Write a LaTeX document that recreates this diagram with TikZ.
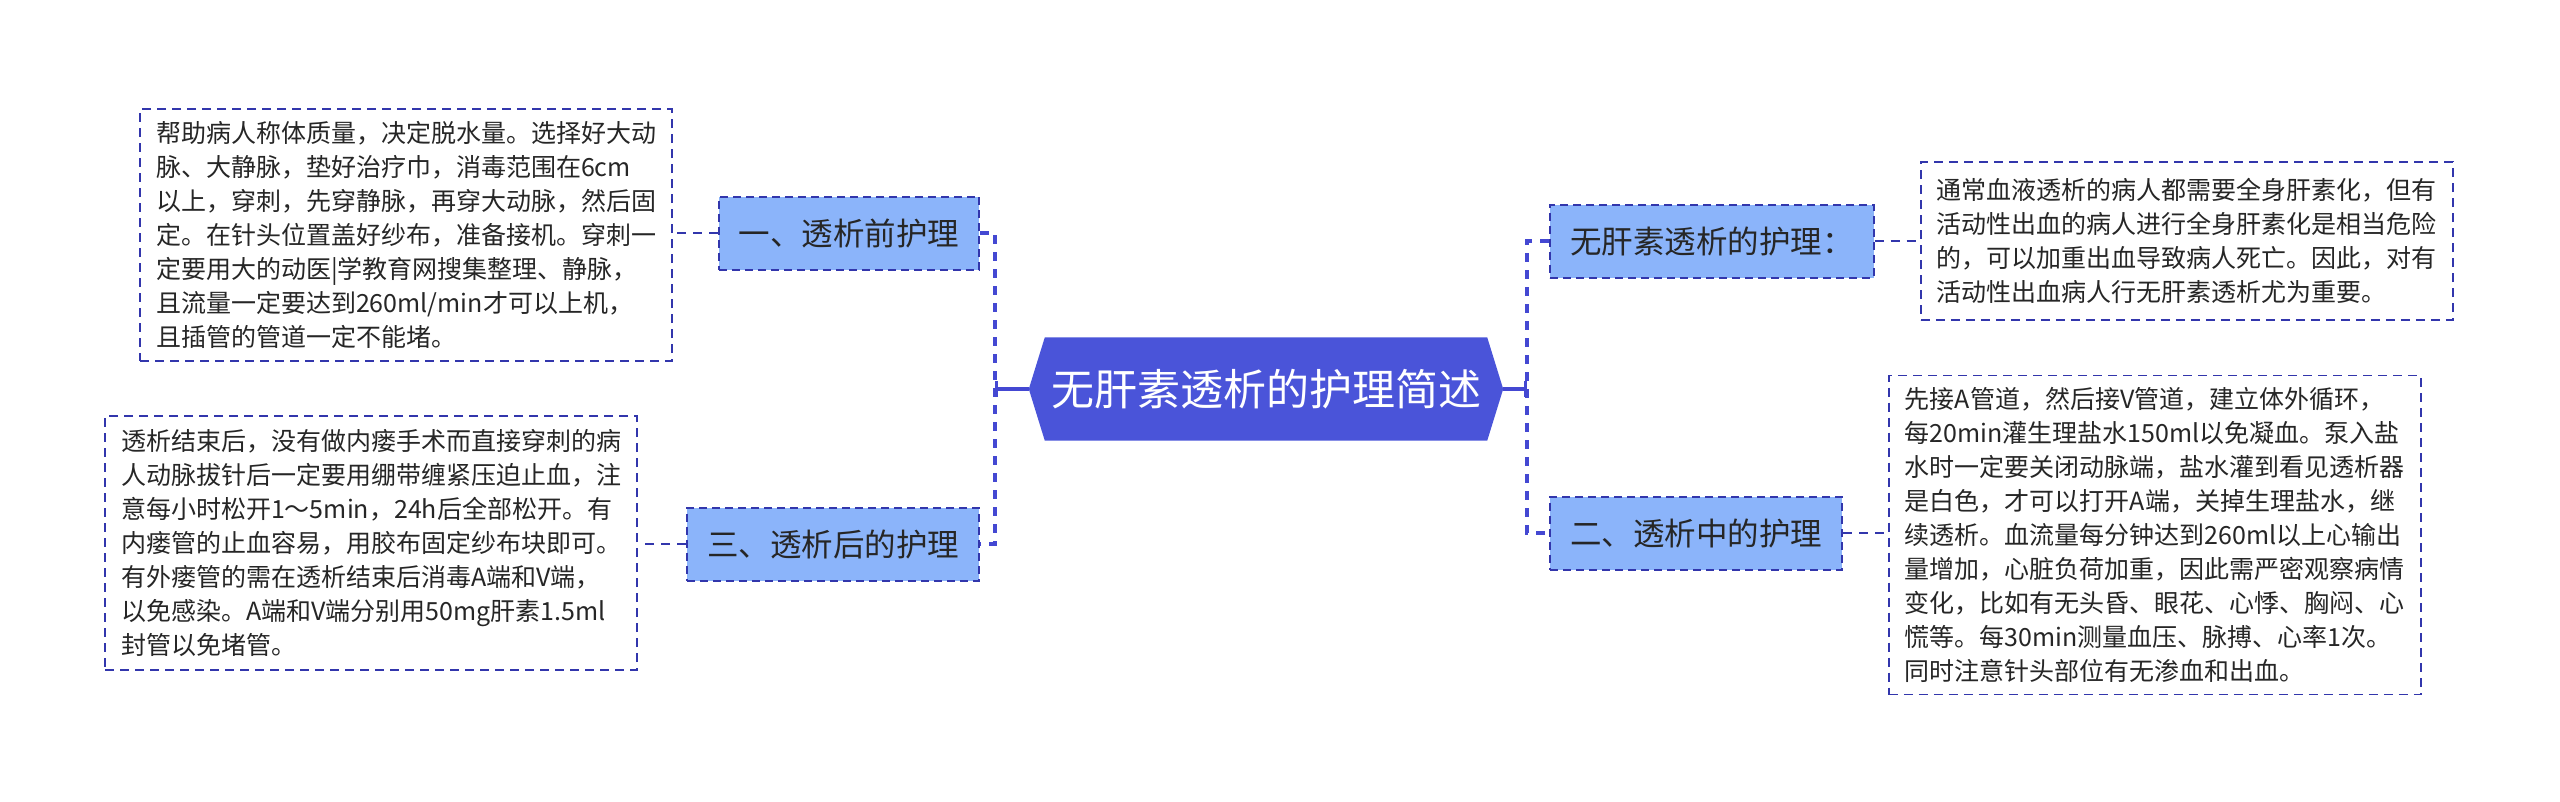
\documentclass[tikz,border=0pt]{standalone}
\usepackage{fontspec}
\setmainfont{Noto Sans CJK SC}
\usetikzlibrary{arrows.meta,backgrounds}
\definecolor{hubblue}{RGB}{74,84,217}
\definecolor{topicblue}{RGB}{139,180,250}
\definecolor{edgeblue}{RGB}{50,54,172}
\definecolor{busblue}{RGB}{68,72,210}
\definecolor{inkgray}{RGB}{38,38,38}

\begin{document}
\begin{tikzpicture}[x=1pt,y=-1pt,
  hub/.style={text=white,font=\fontsize{43}{50}\selectfont,minimum width=442,minimum height=103,inner sep=0},
  topic/.style={draw=edgeblue,fill=topicblue,dash pattern=on 8pt off 5pt,line width=2pt,text=inkgray,font=\fontsize{31.5}{38}\selectfont,minimum height=73,inner xsep=20,inner ysep=0},
  leaf/.style={draw=edgeblue,fill=white,dash pattern=on 9pt off 6pt,line width=1.8pt,text=inkgray,font=\fontsize{25}{34}\selectfont,align=left,minimum width=532,inner sep=0},
  bus/.style={draw=busblue,line width=4pt,dash pattern=on 9pt off 8pt},
  link/.style={draw=edgeblue,line width=2.5pt,dash pattern=on 9pt off 7pt},
]
\useasboundingbox (0,0) rectangle (2560,801);
\node[hub] (root) at (1266,389) {无肝素透析的护理简述};
\begin{scope}[on background layer]
\fill[hubblue] (root.north west) -- (root.north east) -- ([xshift=16]root.east) -- (root.south east) -- (root.south west) -- ([xshift=-16]root.west) -- cycle;
\end{scope}

\node[topic,anchor=east] (pre) at (980,233) {一、透析前护理};
\node[topic,anchor=east] (post) at (980,544) {三、透析后的护理};
\node[topic,anchor=west] (nohep) at (1549,241) {无肝素透析的护理：};
\node[topic,anchor=west] (during) at (1549,533) {二、透析中的护理};

\node[leaf,anchor=east,minimum height=252] (preText) at (673,235) {帮助病人称体质量，决定脱水量。选择好大动\\脉、大静脉，垫好治疗巾，消毒范围在6cm\\以上，穿刺，先穿静脉，再穿大动脉，然后固\\定。在针头位置盖好纱布，准备接机。穿刺一\\定要用大的动医|学教育网搜集整理、静脉，\\且流量一定要达到260ml/min才可以上机，\\且插管的管道一定不能堵。};
\node[leaf,anchor=east,minimum height=254] (postText) at (638,543) {透析结束后，没有做内瘘手术而直接穿刺的病\\人动脉拔针后一定要用绷带缠紧压迫止血，注\\意每小时松开1～5min，24h后全部松开。有\\内瘘管的止血容易，用胶布固定纱布块即可。\\有外瘘管的需在透析结束后消毒A端和V端，\\以免感染。A端和V端分别用50mg肝素1.5ml\\封管以免堵管。};
\node[leaf,anchor=west,minimum height=158] (nohepText) at (1920,241) {通常血液透析的病人都需要全身肝素化，但有\\活动性出血的病人进行全身肝素化是相当危险\\的，可以加重出血导致病人死亡。因此，对有\\活动性出血病人行无肝素透析尤为重要。};
\node[leaf,anchor=west,minimum height=319] (duringText) at (1888,535) {先接A管道，然后接V管道，建立体外循环，\\每20min灌生理盐水150ml以免凝血。泵入盐\\水时一定要关闭动脉端，盐水灌到看见透析器\\是白色，才可以打开A端，关掉生理盐水，继\\续透析。血流量每分钟达到260ml以上心输出\\量增加，心脏负荷加重，因此需严密观察病情\\变化，比如有无头昏、眼花、心悸、胸闷、心\\慌等。每30min测量血压、脉搏、心率1次。\\同时注意针头部位有无渗血和出血。};

\draw[busblue,line width=3.5pt,-{Bar[width=16pt]}] ([xshift=-16]root.west) -- ++(-34,0);
\draw[busblue,line width=3.5pt,-{Bar[width=16pt]}] ([xshift=16]root.east) -- ++(24,0);
\draw[bus] (pre.east) -| ([xshift=15]post.east) -- (post.east);
\draw[bus] (nohep.west) -| ([xshift=-22]during.west) -- (during.west);
\draw[link] (pre.west) -- (pre.west -| preText.east);
\draw[link] (post.west) -- (post.west -| postText.east);
\draw[link] (nohep.east) -- (nohep.east -| nohepText.west);
\draw[link] (during.east) -- (during.east -| duringText.west);
\end{tikzpicture}
\end{document}
